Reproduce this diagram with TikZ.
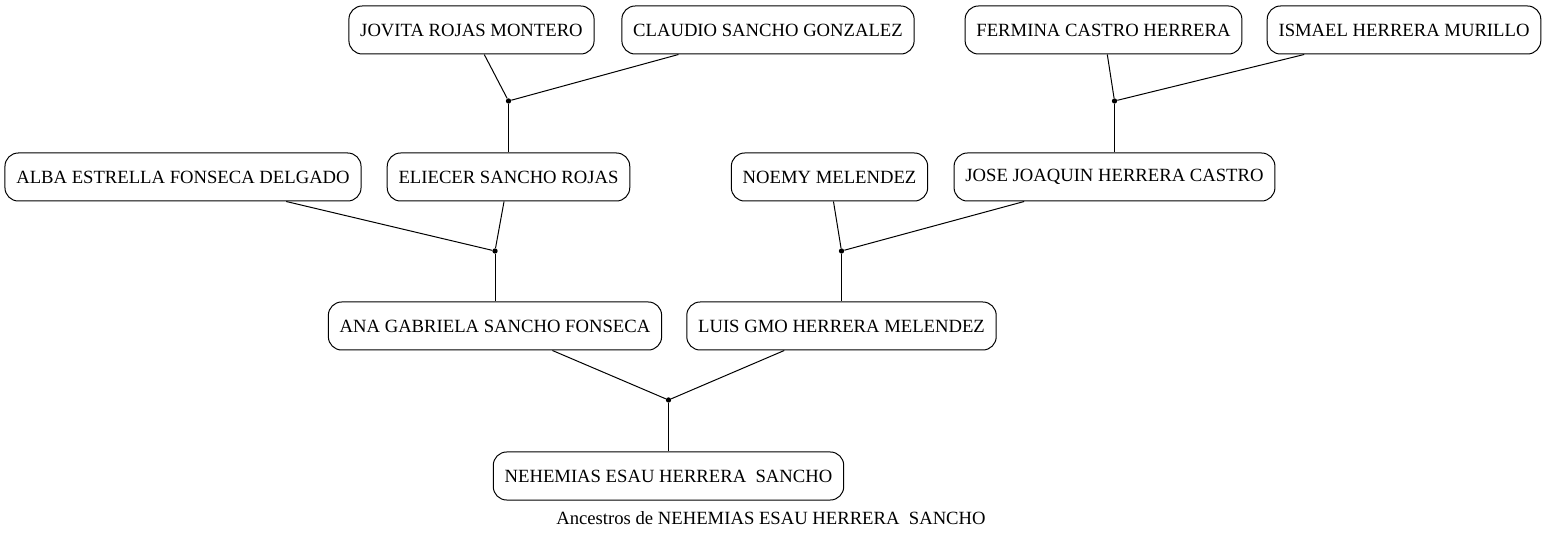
\documentclass[tikz,border=0pt]{standalone}
\usepackage{fontspec}
\setmainfont{Liberation Serif}
\usetikzlibrary{positioning}
\tikzset{
  person/.style={
    draw,
    rectangle,
    rounded corners=10pt,
    line width=0.75pt,
    align=center,
    inner xsep=8.5pt,
    minimum height=36pt,
    font=\fontsize{14}{16}\selectfont,
  },
  knot/.style={circle, fill, inner sep=0pt, minimum size=4pt},
  link/.style={line width=0.75pt},
  caption/.style={font=\fontsize{14}{16}\selectfont, inner sep=0pt},
}

\begin{document}
\begin{tikzpicture}[x=0.75pt, y=-0.75pt]
  \useasboundingbox (0,0) rectangle (1546,534);

  % grandparents' parents
  \node[person] (jovita) at (471.5,30) {JOVITA ROJAS MONTERO};
  \node[person] (claudio) at (768,30) {CLAUDIO SANCHO GONZALEZ};
  \node[person] (fermina) at (1103.5,30) {FERMINA CASTRO HERRERA};
  \node[person] (ismael) at (1404,30) {ISMAEL HERRERA MURILLO};

  % grandparents
  \node[person] (alba) at (183,177) {ALBA ESTRELLA FONSECA DELGADO};
  \node[person] (eliecer) at (508.5,177) {ELIECER SANCHO ROJAS};
  \node[person] (noemy) at (829.5,177) {NOEMY MELENDEZ};
  \node[person] (jose) at (1114.5,177) {JOSE JOAQUIN HERRERA CASTRO};

  % parents
  \node[person] (ana) at (495,326) {ANA GABRIELA SANCHO FONSECA};
  \node[person] (luis) at (841.5,326) {LUIS GMO HERRERA MELENDEZ};

  \node[person] (nehemias) at (668.5,476) {NEHEMIAS ESAU HERRERA\ \ SANCHO};

  % unions
  \node[knot] (u1) at (508.5,101) {};
  \node[knot] (u2) at (1114.5,101) {};
  \node[knot] (u3) at (495,251) {};
  \node[knot] (u4) at (841.5,251) {};
  \node[knot] (u5) at (668.5,400) {};

  \draw[link] (jovita) -- (u1);
  \draw[link] (claudio) -- (u1);
  \draw[link] (u1) -- (eliecer);
  \draw[link] (fermina) -- (u2);
  \draw[link] (ismael) -- (u2);
  \draw[link] (u2) -- (jose);
  \draw[link] (alba) -- (u3);
  \draw[link] (eliecer) -- (u3);
  \draw[link] (u3) -- (ana);
  \draw[link] (noemy) -- (u4);
  \draw[link] (jose) -- (u4);
  \draw[link] (u4) -- (luis);
  \draw[link] (ana) -- (u5);
  \draw[link] (luis) -- (u5);
  \draw[link] (u5) -- (nehemias);

  \node[caption] (title) at (771,518) {Ancestros de NEHEMIAS ESAU HERRERA\ \ SANCHO};
\end{tikzpicture}
\end{document}
